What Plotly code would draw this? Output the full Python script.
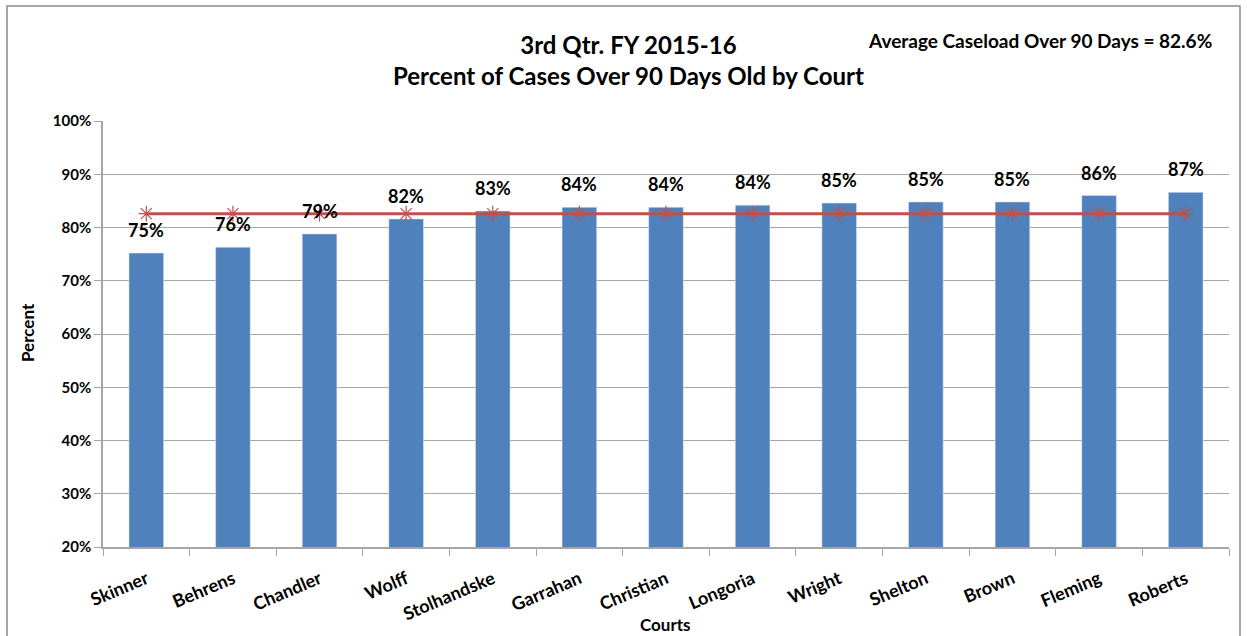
import plotly.graph_objects as go

courts = ["Skinner", "Behrens", "Chandler", "Wolff", "Stolhandske", "Garrahan",
          "Christian", "Longoria", "Wright", "Shelton", "Brown", "Fleming", "Roberts"]
pct_over_90 = [75.2, 76.3, 78.8, 81.6, 83.1, 83.8, 83.8, 84.2, 84.6, 84.8, 84.8, 86.0, 86.6]
average_pct = 82.6
y_ticks = [20, 30, 40, 50, 60, 70, 80, 90, 100]

FONT = "Lato, 'Open Sans', 'Liberation Sans', sans-serif"
BAR_BLUE = "#4F81BD"
LINE_RED = "#C0504D"
GRID = "#A6A6A6"

W, H = 1247, 636
L, R, T, B = 103, 18, 121, 89
PW, PH = W - L - R, H - T - B


def px_x(x):
    return (x - L) / PW


def px_y(y):
    return (H - B - y) / PH


fig = go.Figure()

fig.add_trace(go.Bar(
    x=courts, y=pct_over_90, marker_color=BAR_BLUE, width=0.4,
    showlegend=False, hoverinfo="x+y",
))

fig.add_trace(go.Scatter(
    x=courts, y=[average_pct] * len(courts), mode="lines+markers",
    line=dict(color=LINE_RED, width=3),
    marker=dict(symbol="asterisk-open", size=13, color=LINE_RED,
                line=dict(color=LINE_RED, width=1.2)),
    showlegend=False,
))

# value labels above each bar
for c, v in zip(courts, pct_over_90):
    fig.add_annotation(
        x=c, y=v, text=f"{round(v)}%", showarrow=False,
        yanchor="bottom", yshift=10,
        font=dict(family=FONT, size=18, color="#000000", weight="bold"),
    )

fig.add_annotation(
    xref="paper", yref="paper", x=px_x(628), y=px_y(60), xanchor="center", yanchor="middle",
    text="3rd Qtr. FY 2015-16<br>Percent of Cases Over 90 Days Old by Court",
    showarrow=False, align="center",
    font=dict(family=FONT, size=24, color="#000000", weight="bold"),
)
fig.add_annotation(
    xref="paper", yref="paper", x=px_x(1214), y=px_y(40), xanchor="right", yanchor="middle",
    text=f"Average Caseload Over 90 Days = {average_pct}%", showarrow=False,
    font=dict(family=FONT, size=19, color="#000000", weight="bold"),
)

# axis titles
fig.add_annotation(
    xref="paper", yref="paper", x=px_x(27), y=px_y(333), xanchor="center", yanchor="middle",
    text="Percent", textangle=-90, showarrow=False,
    font=dict(family=FONT, size=17, color="#000000", weight="bold"),
)
fig.add_annotation(
    xref="paper", yref="paper", x=px_x(665), y=px_y(624), xanchor="center", yanchor="middle",
    text="Courts", showarrow=False,
    font=dict(family=FONT, size=17, color="#000000", weight="bold"),
)

# outer chart border
fig.add_shape(
    type="rect", xref="paper", yref="paper",
    x0=px_x(7), x1=px_x(1240), y0=px_y(645), y1=px_y(6),
    line=dict(color="#8C8C8C", width=1.5), fillcolor="rgba(0,0,0,0)", layer="below",
)

fig.update_layout(
    width=W, height=H,
    margin=dict(l=L, r=R, t=T, b=B, autoexpand=False),
    paper_bgcolor="white", plot_bgcolor="white",
    bargap=0.6,
    font=dict(family=FONT, color="#000000"),
    xaxis=dict(
        type="category", range=[-0.5, len(courts) - 0.5],
        tickson="boundaries", ticks="outside", ticklen=7,
        tickcolor=GRID, showline=True, linecolor=GRID, linewidth=1.5,
        tickangle=-23, ticklabelstandoff=13,
        tickfont=dict(family=FONT, size=18, weight="bold"),
        showgrid=False, automargin=False,
    ),
    yaxis=dict(
        range=[20, 100], tickvals=y_ticks, ticktext=[f"{t}%" for t in y_ticks],
        ticks="outside", ticklen=7, tickcolor=GRID,
        showline=True, linecolor=GRID, linewidth=1.5,
        showgrid=True, gridcolor=GRID, gridwidth=1.2,
        tickfont=dict(family=FONT, size=15, weight="bold"),
        zeroline=False, automargin=False,
    ),
)

fig.write_html("out.html")
